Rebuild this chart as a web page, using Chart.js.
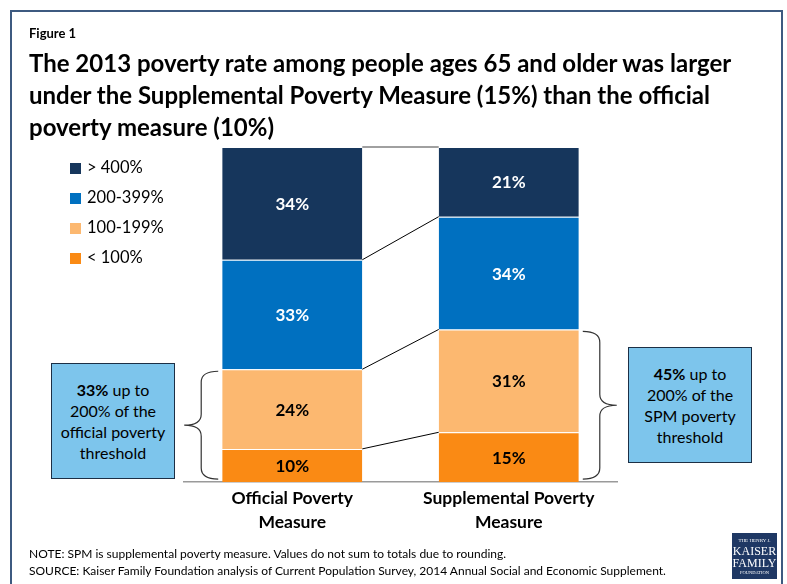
<!DOCTYPE html>
<html>
<head>
<meta charset="utf-8">
<script src="https://cdn.jsdelivr.net/npm/chart.js@4.4.1/dist/chart.umd.min.js"></script>
<style>
  body { margin: 0; background: #fff; font-family: Lato, sans-serif; color: #000; }
  #wrap { position: relative; width: 787px; height: 584px; overflow: hidden; }
  #frame { position: absolute; left: 10px; top: 10px; width: 769px; height: 620px; border: 2px solid #3d5a80; }
  canvas { position: absolute; left: 0; top: 0; }
  .fig { position: absolute; left: 29px; top: 25px; font-weight: bold; font-size: 13px; }
  .title { position: absolute; left: 29px; top: 47px; font-weight: bold; font-size: 24px; line-height: 32px; white-space: nowrap; }
  .legend { position: absolute; left: 70px; top: 156px; font-size: 16.5px; }
  .legend div { height: 30px; line-height: 22px; white-space: nowrap; }
  .legend span { display: inline-block; width: 11px; height: 11px; margin-right: 6px; vertical-align: -1px; }
  .box { position: absolute; background: #7dc5ec; border: 1.5px solid #1c2f45; font-size: 16px; line-height: 21px;
         text-align: center; display: flex; align-items: center; justify-content: center; box-sizing: border-box; }
  .note { position: absolute; left: 29px; top: 545px; font-size: 12px; line-height: 17px; white-space: nowrap; }
  .logo { position: absolute; left: 732px; top: 533px; width: 45px; height: 46px; background: #1f3864; color: #fff;
          font-family: "Liberation Serif", serif; text-align: center; line-height: 1; }
</style>
</head>
<body>
<div id="wrap">
  <canvas id="chart" width="787" height="584"></canvas>
  <div id="frame"></div>
  <div class="fig">Figure 1</div>
  <div class="title">The 2013 poverty rate among people ages 65 and older was larger<br>under the Supplemental Poverty Measure (15%) than the official<br>poverty measure (10%)</div>
  <div class="legend" id="legend"></div>
  <div class="box" style="left:51px;top:363px;width:124px;height:116px;"><div><b>33%</b> up to<br>200% of the<br>official poverty<br>threshold</div></div>
  <div class="box" style="left:628px;top:347px;width:124px;height:116px;"><div><b>45%</b> up to<br>200% of the<br>SPM poverty<br>threshold</div></div>
  <div class="note">NOTE: SPM is supplemental poverty measure. Values do not sum to totals due to rounding.<br>SOURCE: Kaiser Family Foundation analysis of Current Population Survey, 2014 Annual Social and Economic Supplement.</div>
  <div class="logo"><div style="font-size:5px;padding-top:5px;">THE HENRY J.</div><div style="font-size:12px;margin-top:2px;">KAISER</div><div style="font-size:12px;">FAMILY</div><div style="font-size:4.5px;margin-top:2px;">FOUNDATION</div></div>
</div>
<script>
// categories and series (percent of people 65+)
const categories = [["Official Poverty", "Measure"], ["Supplemental Poverty", "Measure"]];
const seriesNames = ["< 100%", "100-199%", "200-399%", "> 400%"];
const under100 = [10, 15];
const from100to199 = [24, 31];
const from200to399 = [33, 34];
const over400 = [34, 21];
const colors = ["#fa8a14", "#fcb870", "#0070c0", "#16365c"];
const labelColors = ["#000", "#000", "#fff", "#fff"];

// legend, top item first
const legendEl = document.getElementById("legend");
for (let i = seriesNames.length - 1; i >= 0; i--) {
  legendEl.innerHTML += '<div><span style="background:' + colors[i] + '"></span>' + seriesNames[i].replace("<", "&lt;") + '</div>';
}

const extras = {
  id: "extras",
  afterDatasetsDraw(chart) {
    const ctx = chart.ctx;
    const metas = chart.data.datasets.map((d, i) => chart.getDatasetMeta(i));
    ctx.save();
    // connector lines between the two stacks
    metas.forEach((m, i) => {
      const a = m.data[0], b = m.data[1];
      ctx.beginPath();
      ctx.strokeStyle = i === metas.length - 1 ? "#808080" : "#000";
      ctx.lineWidth = i === metas.length - 1 ? 1.5 : 1;
      ctx.moveTo(a.x + a.width / 2, a.y);
      ctx.lineTo(b.x - b.width / 2, b.y);
      ctx.stroke();
    });
    // value labels
    ctx.font = "bold 17px Lato";
    ctx.textAlign = "center";
    ctx.textBaseline = "middle";
    metas.forEach((m, i) => {
      m.data.forEach((el, j) => {
        ctx.fillStyle = labelColors[i];
        ctx.fillText(chart.data.datasets[i].data[j] + "%", el.x, (el.y + el.base) / 2 + 1);
      });
    });
    // braces around the two lowest segments
    const bottom = chart.chartArea.bottom - 3;
    const braceL = metas[1].data[0], braceR = metas[1].data[1];
    drawBrace(ctx, braceL.x - braceL.width / 2 - 4, braceL.y + 2, bottom, -1);
    drawBrace(ctx, braceR.x + braceR.width / 2 + 4, braceR.y + 2, bottom, 1);
    ctx.restore();
  }
};

function drawBrace(ctx, x0, top, bot, dir) {
  const xm = x0 + dir * 17, xt = x0 + dir * 34, r = 11;
  const mid = (top + bot) / 2;
  ctx.beginPath();
  ctx.strokeStyle = "#333";
  ctx.lineWidth = 1.2;
  ctx.moveTo(x0, top);
  ctx.quadraticCurveTo(xm, top, xm, top + r);
  ctx.lineTo(xm, mid - r);
  ctx.quadraticCurveTo(xm, mid, xt, mid);
  ctx.quadraticCurveTo(xm, mid, xm, mid + r);
  ctx.lineTo(xm, bot - r);
  ctx.quadraticCurveTo(xm, bot, x0, bot);
  ctx.stroke();
}

const seriesData = [under100, from100to199, from200to399, over400];
new Chart(document.getElementById("chart"), {
  type: "bar",
  data: {
    labels: categories,
    datasets: seriesData.map((d, i) => ({
      label: seriesNames[i],
      data: d,
      backgroundColor: colors[i],
      borderColor: "rgba(255,255,255,0.45)",
      borderWidth: { top: 1 },
      borderSkipped: false,
      categoryPercentage: 1,
      barPercentage: 0.647
    }))
  },
  options: {
    responsive: false,
    animation: false,
    devicePixelRatio: 1,
    layout: { padding: { left: 184, right: 170, top: 147, bottom: 46 } },
    plugins: { legend: { display: false }, tooltip: { enabled: false } },
    scales: {
      x: {
        stacked: true,
        grid: { display: false, drawTicks: false },
        border: { display: true, color: "#9a9a9a", width: 1.5 },
        ticks: { color: "#000", font: { family: "Lato", size: 17.5, weight: "bold", lineHeight: 1.37 }, padding: 4 }
      },
      y: { stacked: true, display: false, min: 0, max: 101 }
    }
  },
  plugins: [extras]
});
</script>
</body>
</html>
